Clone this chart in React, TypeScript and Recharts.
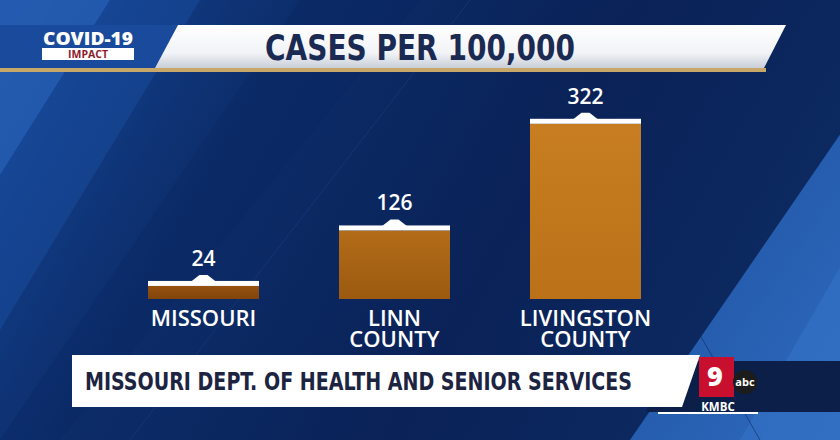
import React from 'react'
import { BarChart, Bar, XAxis, YAxis, LabelList } from 'recharts'

const places = ['MISSOURI', 'LINN COUNTY', 'LIVINGSTON COUNTY']
const placeLines = [['MISSOURI'], ['LINN', 'COUNTY'], ['LIVINGSTON', 'COUNTY']]
const casesPer100k = [24, 126, 322]
const barTops = ['#96520f', '#b36c18', '#c77d20']
const barBottoms = ['#82440a', '#9b5a10', '#bb7118']

const title = 'CASES PER 100,000'
const source = 'MISSOURI DEPT. OF HEALTH AND SENIOR SERVICES'

const data = places.map((name, i) => ({ name, value: casesPer100k[i] }))

const W = 840
const H = 440
const labelFont = '"Open Sans", "DejaVu Sans", sans-serif'
const narrowFont = '"DejaVu Sans Condensed", "Open Sans", sans-serif'

// bar with the white cap and little peak on top
function CappedBar(props: any) {
  const { x, y, width, height, index } = props
  const cx = x + width / 2
  return (
    <g>
      <rect x={x} y={y} width={width} height={height} fill={`url(#bar-${index})`} />
      <rect x={x} y={y - 5} width={width} height={5} fill="#ffffff" />
      <path d={`M${cx - 13},${y - 4} L${cx - 4},${y - 11} L${cx + 4},${y - 11} L${cx + 13},${y - 4} Z`} fill="#ffffff" />
    </g>
  )
}

function ValueLabel(props: any) {
  const { x, y, width, value } = props
  return (
    <text x={x + width / 2} y={y - 20} textAnchor="middle" fill="#ffffff"
      fontFamily={labelFont} fontWeight={600} fontSize={21}>
      {value}
    </text>
  )
}

function PlaceTick(props: any) {
  const { x, y, payload } = props
  const lines = placeLines[places.indexOf(payload.value)] || [payload.value]
  return (
    <g>
      {lines.map((l, i) => (
        <text key={l} x={x} y={y + 27 + i * 21} textAnchor="middle" fill="#ffffff"
          fontFamily={labelFont} fontWeight={600} fontSize={22}>
          {l}
        </text>
      ))}
    </g>
  )
}

function Backdrop() {
  return (
    <svg width={W} height={H} style={{ position: 'absolute', left: 0, top: 0 }}>
      <defs>
        <linearGradient id="bg-main" x1="0" y1="0" x2="1" y2="0.3">
          <stop offset="0%" stopColor="#16479a" />
          <stop offset="35%" stopColor="#0c2c68" />
          <stop offset="70%" stopColor="#0a2257" />
          <stop offset="100%" stopColor="#0c2960" />
        </linearGradient>
        <linearGradient id="bg-right" x1="0" y1="0" x2="1" y2="1">
          <stop offset="0%" stopColor="#1d4e9c" />
          <stop offset="100%" stopColor="#2f6cc0" />
        </linearGradient>
      </defs>
      <rect width={W} height={H} fill="url(#bg-main)" />
      <polygon points="0,0 110,0 0,175" fill="#2a63b8" opacity={0.75} />
      <polygon points="110,0 200,0 0,330 0,175" fill="#1b4fa2" opacity={0.45} />
      <polygon points="300,0 420,0 60,440 0,440" fill="#0a2660" opacity={0.35} />
      <polygon points="850,120 840,440 630,440" fill="url(#bg-right)" />
      <polygon points="850,250 840,440 740,440" fill="#3674c8" opacity={0.5} />
      <line x1="470" y1="0" x2="130" y2="440" stroke="#1a3f80" strokeWidth={1} opacity={0.6} />
      <line x1="560" y1="90" x2="760" y2="440" stroke="#0e2a60" strokeWidth={1} opacity={0.6} />
    </svg>
  )
}

function Overlay() {
  return (
    <svg width={W} height={H} style={{ position: 'absolute', left: 0, top: 0 }}>
      <defs>
        <linearGradient id="banner-white" x1="0" y1="0" x2="0" y2="1">
          <stop offset="0%" stopColor="#ffffff" />
          <stop offset="65%" stopColor="#f1f3f6" />
          <stop offset="100%" stopColor="#c9ced8" />
        </linearGradient>
      </defs>
      {/* top banner */}
      <polygon points="0,25 178,25 155,68 0,68" fill="#1a4a9b" />
      <rect x={0} y={68} width={766} height={4} fill="#c8a868" />
      <polygon points="178,25 786,25 764,68 155,68" fill="url(#banner-white)" />
      <text x={88} y={45} textAnchor="middle" fill="#ffffff" fontFamily={labelFont} fontWeight={800} fontSize={18}
        textLength={90} lengthAdjust="spacingAndGlyphs">
        COVID-19
      </text>
      <rect x={42} y={48} width={92} height={12} fill="#ffffff" />
      <text x={88} y={58} textAnchor="middle" fill="#8e1a2c" fontFamily={labelFont} fontWeight={700} fontSize={10.5}>
        IMPACT
      </text>
      <text x={420} y={60} textAnchor="middle" fill="#1b2a52" fontFamily={narrowFont} fontWeight={700} fontSize={35}
        textLength={310} lengthAdjust="spacingAndGlyphs">
        {title}
      </text>

      {/* bottom banner */}
      <polygon points="668,361 840,361 840,412 646,412" fill="#0c1f48" />
      <polygon points="72,355 700,355 682,407 72,407" fill="#ffffff" />
      <text x={85} y={390} fill="#1c2442" fontFamily={narrowFont} fontWeight={700} fontSize={25}
        textLength={547} lengthAdjust="spacingAndGlyphs">
        {source}
      </text>
      <rect x={699} y={357} width={35} height={40} fill="#c8102e" />
      <text x={715} y={386} textAnchor="middle" fill="#ffffff" fontFamily={labelFont} fontWeight={800} fontSize={27}>
        9
      </text>
      <circle cx={745} cy={382} r={12} fill="#1c1c1c" />
      <text x={745} y={386} textAnchor="middle" fill="#ffffff" fontFamily={labelFont} fontWeight={700} fontSize={11}>
        abc
      </text>
      <text x={718} y={411} textAnchor="middle" fill="#ffffff" fontFamily={labelFont} fontWeight={700} fontSize={11.5}>
        KMBC
      </text>
      <rect x={658} y={412} width={100} height={2} fill="#ffffff" />
    </svg>
  )
}

export default function App() {
  return (
    <div style={{ position: 'absolute', left: 0, top: 0, width: W, height: H, overflow: 'hidden' }}>
      <Backdrop />
      <div style={{ position: 'absolute', left: 0, top: 0 }}>
        <BarChart width={W} height={H} data={data} margin={{ top: 114, right: 159, left: 108, bottom: 81 }}>
          <defs>
            {barTops.map((c, i) => (
              <linearGradient key={i} id={`bar-${i}`} x1="0" y1="0" x2="0" y2="1">
                <stop offset="0%" stopColor={c} />
                <stop offset="100%" stopColor={barBottoms[i]} />
              </linearGradient>
            ))}
          </defs>
          <XAxis dataKey="name" axisLine={false} tickLine={false} tickSize={0} tickMargin={0}
            height={60} interval={0} tick={<PlaceTick />} />
          <YAxis hide width={0} domain={[0, 340]} />
          <Bar dataKey="value" barSize={111} shape={<CappedBar />} isAnimationActive={false}>
            <LabelList dataKey="value" content={<ValueLabel />} />
          </Bar>
        </BarChart>
      </div>
      <Overlay />
    </div>
  )
}
